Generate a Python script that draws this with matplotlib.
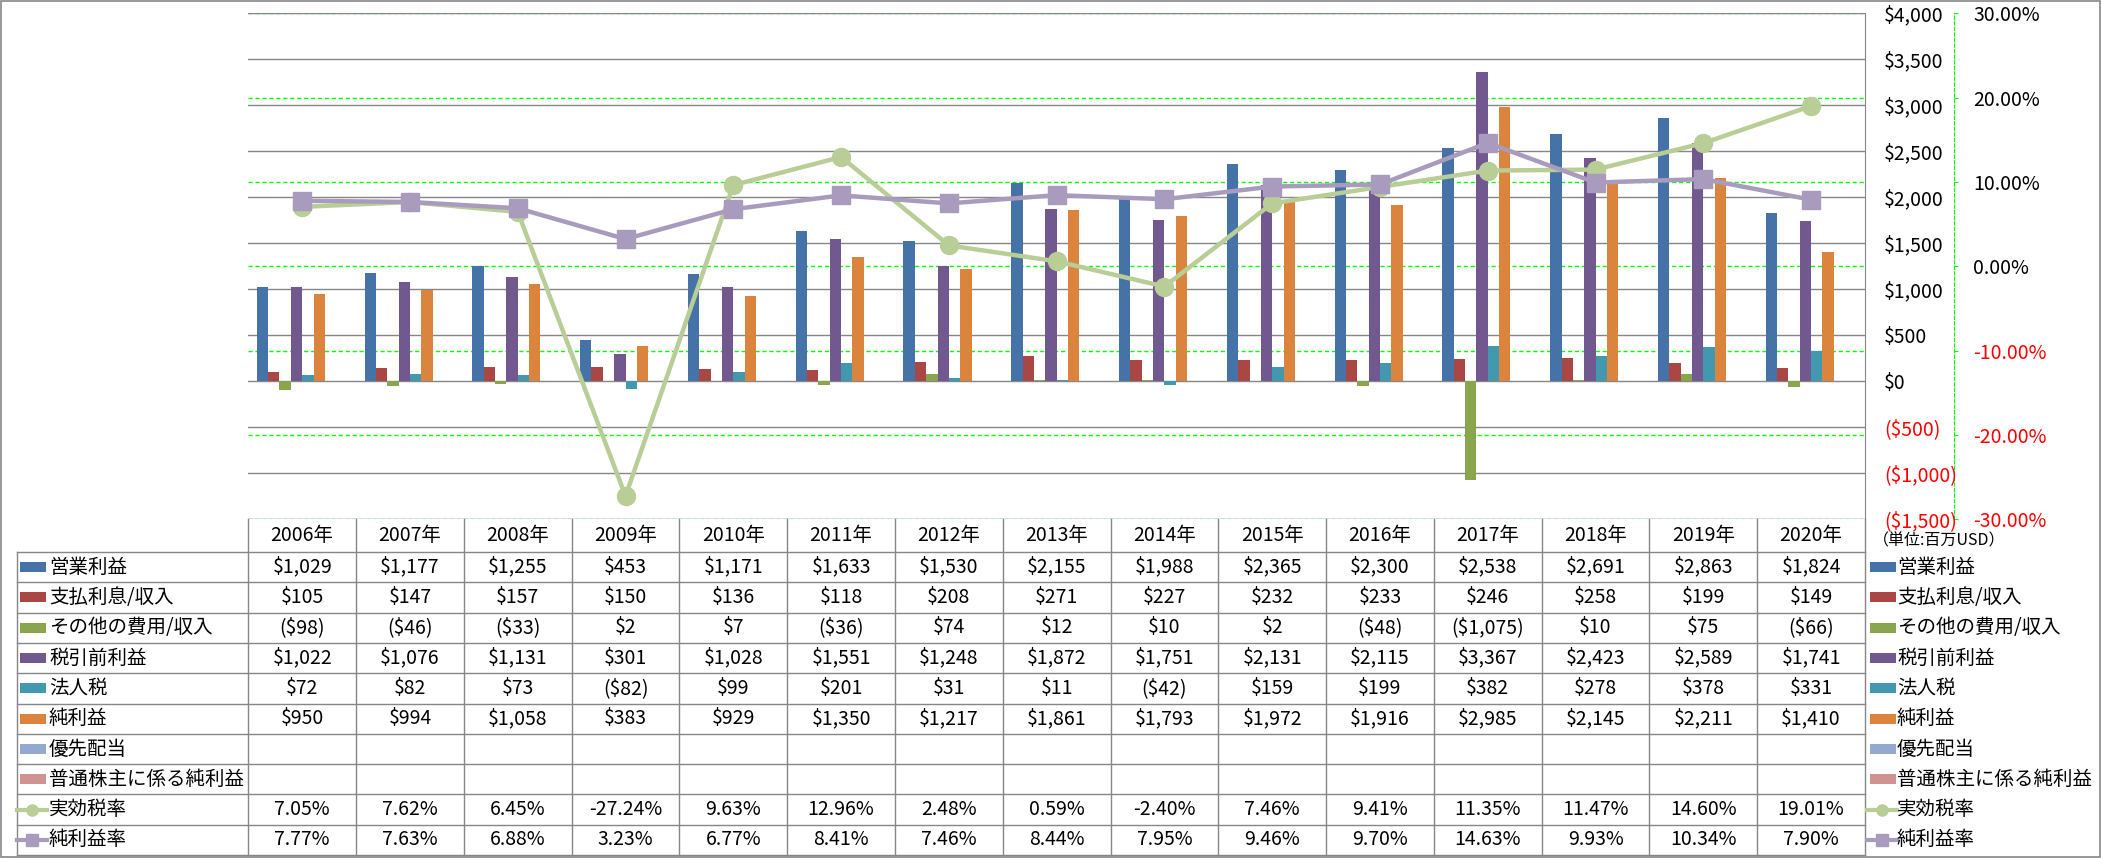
import numpy as np
import matplotlib
matplotlib.use("Agg")
import matplotlib.pyplot as plt
from matplotlib.patches import Rectangle
from matplotlib.transforms import blended_transform_factory

plt.rcParams['font.family'] = ['Noto Sans CJK JP', 'DejaVu Sans']

# ---- data (百万USD) ----
years = [2006, 2007, 2008, 2009, 2010, 2011, 2012, 2013, 2014, 2015, 2016, 2017, 2018, 2019, 2020]

op_income = [1029, 1177, 1255, 453, 1171, 1633, 1530, 2155, 1988, 2365, 2300, 2538, 2691, 2863, 1824]
interest = [105, 147, 157, 150, 136, 118, 208, 271, 227, 232, 233, 246, 258, 199, 149]
other_exp = [-98, -46, -33, 2, 7, -36, 74, 12, 10, 2, -48, -1075, 10, 75, -66]
pretax = [1022, 1076, 1131, 301, 1028, 1551, 1248, 1872, 1751, 2131, 2115, 3367, 2423, 2589, 1741]
tax = [72, 82, 73, -82, 99, 201, 31, 11, -42, 159, 199, 382, 278, 378, 331]
net_income = [950, 994, 1058, 383, 929, 1350, 1217, 1861, 1793, 1972, 1916, 2985, 2145, 2211, 1410]
pref_div = [None] * 15
net_common = [None] * 15

tax_rate = [7.05, 7.62, 6.45, -27.24, 9.63, 12.96, 2.48, 0.59, -2.40, 7.46, 9.41, 11.35, 11.47, 14.60, 19.01]
net_margin = [7.77, 7.63, 6.88, 3.23, 6.77, 8.41, 7.46, 8.44, 7.95, 9.46, 9.70, 14.63, 9.93, 10.34, 7.90]

bar_names = ['営業利益', '支払利息/収入', 'その他の費用/収入', '税引前利益', '法人税', '純利益',
             '優先配当', '普通株主に係る純利益']
bar_series = [op_income, interest, other_exp, pretax, tax, net_income, pref_div, net_common]
bar_colors = ['#4572A7', '#AA4643', '#89A54E', '#71588F', '#4198AF', '#DB843D', '#93A9CF', '#D19392']

line_names = ['実効税率', '純利益率']
line_series = [tax_rate, net_margin]
line_colors = ['#B9CD96', '#A99BBD']
line_markers = ['o', 's']

usd_ticks = [-1500, -1000, -500, 0, 500, 1000, 1500, 2000, 2500, 3000, 3500, 4000]
pct_ticks = [-30, -20, -10, 0, 10, 20, 30]


def fmt_usd(v):
    if v is None:
        return ''
    s = f"${abs(v):,}"
    return f"({s})" if v < 0 else s


def fmt_pct(v):
    return f"{v:.2f}%"


# ---- layout in pixels ----
W, H = 2101, 858
plot_l, plot_r, plot_t, plot_b = 248.3, 1865.0, 13.3, 519.3
head_b = 552.0
row_h = 30.3
GRAY = '#868686'
RED = '#FF0000'
GREEN = '#00FF00'

fig = plt.figure(figsize=(W / 100, H / 100), dpi=100)
rect = [plot_l / W, 1 - plot_b / H, (plot_r - plot_l) / W, (plot_b - plot_t) / H]
x = np.arange(len(years))

# secondary axis: green grid + labels (behind the bars)
ax_grid = fig.add_axes(rect)
ax_grid.set_xlim(-0.5, len(years) - 0.5)
ax_grid.set_ylim(-30, 30)
ax_grid.set_xticks([])
ax_grid.yaxis.tick_right()
ax_grid.set_yticks(pct_ticks)
ax_grid.set_yticklabels([fmt_pct(t) for t in pct_ticks])
ax_grid.grid(axis='y', color=GREEN, linestyle=(0, (3, 2)), linewidth=1)
for s in ['top', 'left', 'bottom']:
    ax_grid.spines[s].set_visible(False)
ax_grid.spines['right'].set_position(('axes', (1954 - plot_l) / (plot_r - plot_l)))
ax_grid.spines['right'].set_color(GREEN)
ax_grid.spines['right'].set_linestyle((0, (3, 2)))
ax_grid.tick_params(axis='y', colors=GREEN, length=3, direction='out', pad=11, labelsize=14)
for t, lab in zip(pct_ticks, ax_grid.get_yticklabels()):
    lab.set_color(RED if t < 0 else 'black')

# primary axis: bars
ax = fig.add_axes(rect)
ax.patch.set_visible(False)
ax.set_xlim(-0.5, len(years) - 0.5)
ax.set_ylim(-1500, 4000)
ax.set_xticks([])
ax.yaxis.tick_right()
ax.set_yticks(usd_ticks)
ax.set_yticklabels([fmt_usd(t) for t in usd_ticks])
ax.tick_params(axis='y', length=0, pad=13.7, labelsize=14)
for t, lab in zip(usd_ticks, ax.get_yticklabels()):
    lab.set_color(RED if t < 0 else 'black')
ax.set_axisbelow(True)
ax.grid(axis='y', color=GRAY, linewidth=1)
for s in ['top', 'left', 'bottom']:
    ax.spines[s].set_visible(False)
ax.spines['right'].set_color(GRAY)

n_bars = len(bar_series)
bw = 8 / 9.5 / n_bars
for k, (vals, c) in enumerate(zip(bar_series, bar_colors)):
    ax.bar(x + (k - (n_bars - 1) / 2) * bw, np.array(vals, dtype=float), bw, color=c, zorder=2)

# lines on top
ax_line = fig.add_axes(rect)
ax_line.patch.set_visible(False)
ax_line.set_xlim(-0.5, len(years) - 0.5)
ax_line.set_ylim(-30, 30)
ax_line.axis('off')
for vals, c, m in zip(line_series, line_colors, line_markers):
    ax_line.plot(x, vals, color=c, lw=3.2, marker=m, ms=13, mec=c, mfc=c, solid_joinstyle='round')

# ---- data table ----
tab = fig.add_axes([0, 0, 1, 1])
tab.set_xlim(0, W)
tab.set_ylim(H, 0)
tab.axis('off')
tr = blended_transform_factory(ax.transData, tab.transData)

FS = 14
n_rows = len(bar_names) + len(line_names)
table_b = head_b + n_rows * row_h
col_w = (plot_r - plot_l) / len(years)

# grid lines of the table
for j in range(len(years) + 1):
    xx = plot_l + j * col_w
    tab.plot([xx, xx], [plot_b, table_b], color=GRAY, lw=1)
tab.plot([16.7, 16.7], [head_b, table_b], color=GRAY, lw=1)
for i in range(n_rows + 1):
    yy = head_b + i * row_h
    tab.plot([16.7, plot_r], [yy, yy], color=GRAY, lw=1)

# header
for i, y in enumerate(years):
    tab.text(i, (plot_b + head_b) / 2, f"{y}年", transform=tr, ha='center', va='center', fontsize=FS)

row_labels = bar_names + line_names
row_text = [[fmt_usd(v) for v in vals] for vals in bar_series] + \
           [[fmt_pct(v) for v in vals] for vals in line_series]
for r, (name, texts) in enumerate(zip(row_labels, row_text)):
    yc = head_b + (r + 0.5) * row_h
    for i, t in enumerate(texts):
        tab.text(i, yc, t, transform=tr, ha='center', va='center', fontsize=FS)
    # legend keys, left and right
    for x0, tx in [(20, 49), (1870, 1897)]:
        if r < len(bar_names):
            tab.add_patch(Rectangle((x0, yc - 5), 26, 10, color=bar_colors[r], lw=0))
        else:
            li = r - len(bar_names)
            tab.plot([x0 - 3, x0 + 27], [yc, yc], color=line_colors[li], lw=3)
            tab.plot([x0 + 12], [yc], marker=line_markers[li], ms=8,
                     color=line_colors[li])
        tab.text(tx, yc, name, ha='left', va='center', fontsize=FS)

tab.text(1873, 541, '（単位:百万USD）', ha='left', va='center', fontsize=11.5)

# outer frame
tab.add_patch(Rectangle((0.5, 1), W - 1.5, H - 2.5, fill=False, edgecolor=GRAY, lw=1.2))

fig.savefig('out.png', dpi=100)
